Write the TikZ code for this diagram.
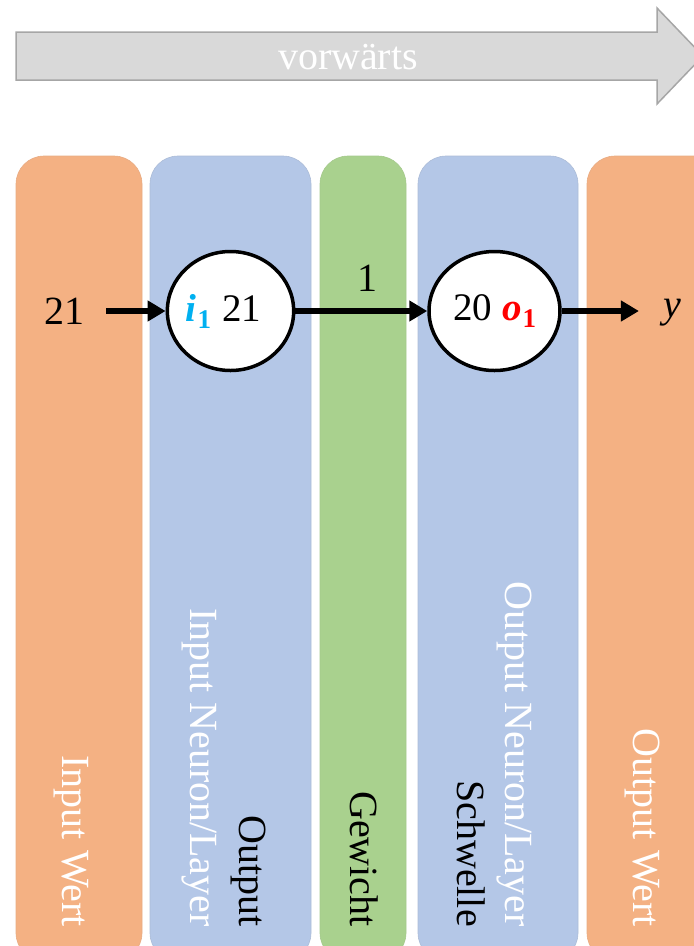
\documentclass[tikz,border=0pt]{standalone}
\usepackage{fontspec}
\setmainfont{Liberation Serif}
\usetikzlibrary{shapes.geometric,arrows.meta}
\definecolor{colorange}{HTML}{F4B183}
\definecolor{colblue}{HTML}{B4C7E7}
\definecolor{colgreen}{HTML}{A9D18E}
\definecolor{arrowgray}{HTML}{D9D9D9}
\definecolor{arrowedge}{HTML}{A6A6A6}
\definecolor{icyan}{HTML}{00B0F0}
\definecolor{ored}{HTML}{FF0000}
% bold italic variable with a bold index
\newcommand{\varidx}[2]{\textbf{\textit{#1}}\kern1pt\raisebox{-7pt}{\fontsize{27}{30}\selectfont\bfseries #2}}
\begin{document}
\begin{tikzpicture}[x=1pt,y=-1pt,
  column/.style={rounded corners=28pt, line width=0.6pt},
  vlabel/.style={rotate=-90, anchor=base east, inner sep=0pt, font=\fontsize{40}{48}\selectfont},
  neuron/.style={ellipse, draw=black, line width=3.5pt, fill=white, inner sep=0pt, font=\fontsize{39}{44}\selectfont},
  flow/.style={line width=6pt, -{Triangle[length=18pt,width=20pt]}},
  valuelabel/.style={inner sep=0pt, font=\fontsize{40}{44}\selectfont}]
\useasboundingbox (0,0) rectangle (694,946);
\begin{scope}
  \clip (0,0) rectangle (694,946);
  % direction arrow
  \draw[fill=arrowgray, draw=arrowedge, line width=1.5pt]
    (16,32) -- (657,32) -- (657,8) -- (703,56) -- (657,104) -- (657,80) -- (16,80) -- cycle;
  \node[text=white, font=\fontsize{40}{44}\selectfont] (fwd) at (348,57) {vorwärts};
  % layer columns
  \draw[column, fill=colorange, draw=colorange!90!gray] (16,156) rectangle (142,961);
  \draw[column, fill=colblue, draw=colblue!85!gray] (150,156) rectangle (311,961);
  \draw[column, fill=colgreen, draw=colgreen!90!gray] (320,156) rectangle (406,961);
  \draw[column, fill=colblue, draw=colblue!85!gray] (418,156) rectangle (578,961);
  \draw[column, fill=colorange, draw=colorange!90!gray] (587,156) rectangle (730,961);
\end{scope}
% column captions
\node[vlabel, text=white] (capin) at (62,927) {Input Wert};
\node[vlabel, text=white] (capinlayer) at (190,927) {Input Neuron/Layer};
\node[vlabel, text=black] (capinout) at (239,927) {Output};
\node[vlabel, text=black] (capweight) at (350,927) {Gewicht};
\node[vlabel, text=black] (capthresh) at (457,927) {Schwelle};
\node[vlabel, text=white] (capoutlayer) at (505,927) {Output Neuron/Layer};
\node[vlabel, text=white] (capout) at (633,927) {Output Wert};
% neurons
\node[neuron, minimum width=122pt, minimum height=119pt] (n1) at (230.5,311)
  {\textcolor{icyan}{\varidx{i}{1}}\hspace{11pt}21\hspace*{14pt}};
\node[neuron, minimum width=131pt, minimum height=119pt] (n2) at (494.5,311)
  {20\hspace{10pt}\textcolor{ored}{\varidx{o}{1}}};
% values
\node[valuelabel] (inval) at (64,311) {21};
\node[valuelabel] (weight) at (367,278) {1};
\node[valuelabel] (outval) at (672,313) {\textit{y}};
% connections
\draw[flow, shorten <=22pt] (inval.east) -- (n1.west);
\draw[flow] (n1.east) -- (n2.west);
\draw[flow, shorten >=24pt] (n2.east) -- (n2.east -| outval.west);
\end{tikzpicture}
\end{document}
